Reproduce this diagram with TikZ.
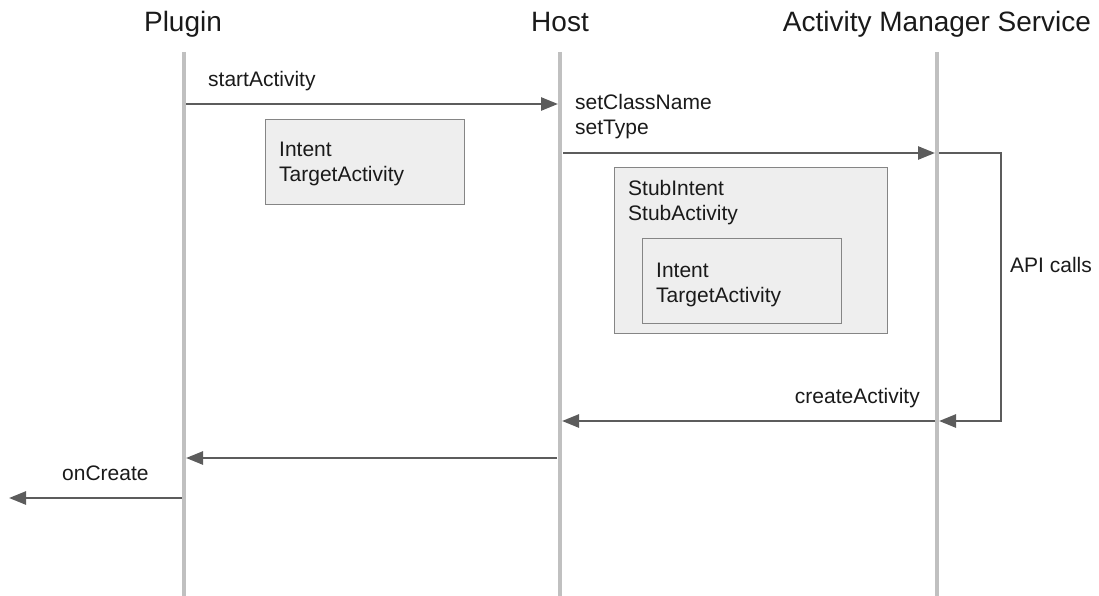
\documentclass[tikz,border=0pt]{standalone}
\usepackage{fontspec}
\setmainfont{Liberation Sans}
\usetikzlibrary{arrows.meta}
\definecolor{lifegray}{HTML}{C0C0C0}
\definecolor{arrgray}{HTML}{5C5C5C}
\definecolor{boxfill}{HTML}{EEEEEE}
\definecolor{boxline}{HTML}{858585}
\definecolor{txt}{HTML}{1A1A1A}
\begin{document}
\begin{tikzpicture}[x=1pt,y=-1pt,
  head/.style={font=\fontsize{28pt}{32pt}\selectfont, text=txt, inner sep=0pt, anchor=base},
  lbl/.style={font=\fontsize{21pt}{25pt}\selectfont, text=txt, inner sep=0pt, anchor=base west},
  lifeline/.style={draw=lifegray, line width=3.3pt},
  msg/.style={draw=arrgray, line width=2.6pt, -{Triangle[length=17pt,width=13pt]}},
  boxstyle/.style={draw=boxline, fill=boxfill, line width=1.4pt, inner sep=0pt, anchor=north west}]
\useasboundingbox (0,0) rectangle (1099,596);
% headers
\node[head] (hp) at (183,32) {Plugin};
\node[head] (hh) at (560,32) {Host};
\node[head] (ha) at (937,32) {Activity Manager Service};
% lifelines
\coordinate (pt) at (184,52); \coordinate (pb) at (184,596);
\coordinate (ht) at (560,52); \coordinate (hb) at (560,596);
\coordinate (at) at (937,52); \coordinate (ab) at (937,596);
\draw[lifeline] (pt) -- (pb);
\draw[lifeline] (ht) -- (hb);
\draw[lifeline] (at) -- (ab);
% message endpoints
\coordinate (m1s) at (186,104); \coordinate (m1e) at (558,104);
\coordinate (m2s) at (563,153); \coordinate (m2e) at (935,153);
\coordinate (l1s) at (939,153); \coordinate (l1e) at (939,421);
\coordinate (m3s) at (935,421); \coordinate (m3e) at (562,421);
\coordinate (m4s) at (557,458); \coordinate (m4e) at (186,458);
\coordinate (m5s) at (182,498); \coordinate (m5e) at (9,498);
% boxes
\node[boxstyle, minimum width=199pt, minimum height=85pt] (b1) at (265,119) {};
\node[boxstyle, minimum width=273pt, minimum height=166pt] (b2) at (614,167) {};
\node[boxstyle, minimum width=199pt, minimum height=85pt] (b3) at (642,238) {};
% arrows
\draw[msg] (m1s) -- (m1e);
\draw[msg] (m2s) -- (m2e);
\draw[msg] (l1s) -- (1001,153) -- (1001,421) -- (l1e);
\draw[msg] (m3s) -- (m3e);
\draw[msg] (m4s) -- (m4e);
\draw[msg] (m5s) -- (m5e);
% labels
\node[lbl] (t1) at (208,87) {startActivity};
\node[lbl] (t2) at (279,157) {Intent};
\node[lbl] (t3) at (279,182) {TargetActivity};
\node[lbl] (t4) at (575,110) {setClassName};
\node[lbl] (t5) at (575,135) {setType};
\node[lbl] (t6) at (628,195) {StubIntent};
\node[lbl] (t7) at (628,220) {StubActivity};
\node[lbl] (t8) at (656,277) {Intent};
\node[lbl] (t9) at (656,302) {TargetActivity};
\node[lbl] (t10) at (1010,272) {API calls};
\node[lbl, anchor=base east] (t11) at (920,403) {createActivity};
\node[lbl] (t12) at (62,480) {onCreate};
\end{tikzpicture}
\end{document}
